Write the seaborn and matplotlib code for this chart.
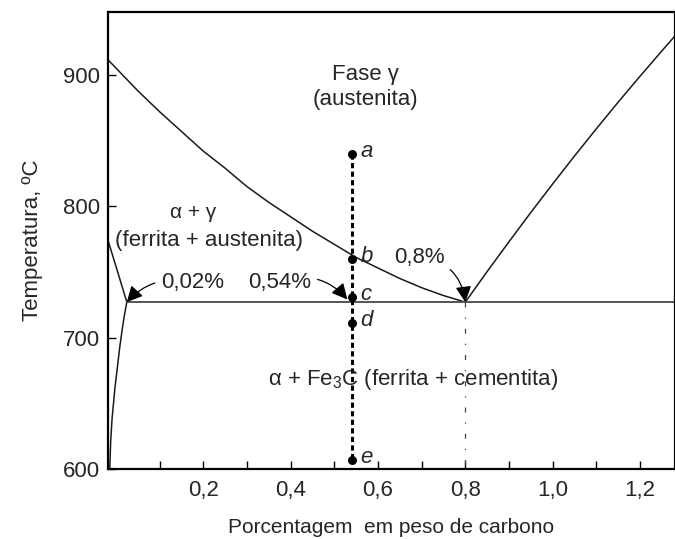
import matplotlib
matplotlib.use("Agg")
import matplotlib.pyplot as plt
import seaborn as sns
import pandas as pd
from matplotlib.ticker import FixedLocator, FuncFormatter

# --- phase boundaries (wt% C, temperature in °C) ---
a3_x = [-0.018, 0.05, 0.1, 0.15, 0.2, 0.25, 0.3, 0.35, 0.4, 0.45, 0.5, 0.55, 0.6,
        0.65, 0.7, 0.75, 0.8]
a3_t = [911.5, 888, 872, 857, 842, 829, 815, 803, 792, 781, 771, 761, 753,
        745, 738, 732, 727]

acm_x = [0.8, 0.85, 0.9, 0.95, 1.0, 1.05, 1.1, 1.15, 1.2, 1.25, 1.28]
acm_t = [727, 750.3, 773, 795.3, 817, 838.3, 859, 879.3, 899, 918.3, 929.7]

solvus_up_x = [-0.018, -0.006, 0.005, 0.016, 0.025]
solvus_up_t = [774, 761, 749, 737, 727]

solvus_low_x = [0.025, 0.019, 0.014, 0.009, 0.003, -0.002, -0.006, -0.009,
                -0.012, -0.014]
solvus_low_t = [727, 716, 705, 693, 676, 662, 648, 637, 620, 600]

eutectoid_t = 727
eutectoid_x = [0.025, 1.28]
eutectoid_c = 0.8

# --- alloy of 0.54 % C and its sampled states ---
alloy_c = 0.54
point_names = ["a", "b", "c", "d", "e"]
point_t = [840, 760, 731, 711, 607]

x_ticks_major = [0.2, 0.4, 0.6, 0.8, 1.0, 1.2]
x_ticks_minor = [0.1, 0.3, 0.5, 0.7, 0.9, 1.1]
y_ticks = [600, 700, 800, 900]

sns.set_theme(style="white")
plt.rcParams["font.family"] = ["Liberation Sans", "DejaVu Sans"]
plt.rcParams["mathtext.fontset"] = "custom"
plt.rcParams["mathtext.rm"] = "Liberation Sans"

FS = 16

fig = plt.figure(figsize=(6.75, 5.39), dpi=100)
ax = fig.add_axes([0.16, 0.130, 0.84, 0.848])

line_col = "#1a1a1a"
for xs, ts in [(a3_x, a3_t), (acm_x, acm_t), (solvus_up_x, solvus_up_t),
               (solvus_low_x, solvus_low_t)]:
    sns.lineplot(x=xs, y=ts, ax=ax, color=line_col, lw=1.1, sort=False)
sns.lineplot(x=eutectoid_x, y=[eutectoid_t] * 2, ax=ax, color="#555555", lw=1.4,
             sort=False)

# eutectoid composition marker line
ax.plot([eutectoid_c, eutectoid_c], [eutectoid_t, 600], color="#444444", lw=0.9,
        linestyle=(0, (4, 8, 1, 8)))

# vertical path of the alloy
ax.plot([alloy_c, alloy_c], [point_t[0], point_t[-1]], color="black", lw=2.2,
        linestyle=(0, (1.7, 1.1)))
pts = pd.DataFrame({"x": [alloy_c] * len(point_t), "t": point_t, "name": point_names})
sns.scatterplot(data=pts, x="x", y="t", ax=ax, color="black", s=42, edgecolor="black",
                linewidth=0, zorder=5)
for _, r in pts.iterrows():
    ax.text(r["x"] + 0.02, r["t"] + 2, r["name"], style="italic", fontsize=FS,
            ha="left", va="center")

# region labels
ax.text(0.571, 900, "Fase γ", fontsize=FS, ha="center", va="center")
ax.text(0.571, 881, "(austenita)", fontsize=FS, ha="center", va="center")
ax.text(0.177, 795, "α + γ", fontsize=FS - 1, ha="center", va="center")
ax.text(0.213, 774, "(ferrita + austenita)", fontsize=FS, ha="center", va="center")
ax.text(0.349, 668, r"α + Fe$_3$C (ferrita + cementita)", fontsize=FS, ha="left",
        va="center")

# composition call-outs
arrow_kw = dict(arrowstyle="-|>,head_length=0.6,head_width=0.3", color="black", lw=0.9,
                shrinkA=2, shrinkB=0)
ax.annotate("0,02%", xy=(0.025, eutectoid_t), xytext=(0.175, 742), fontsize=FS,
            ha="center", va="center",
            arrowprops=dict(connectionstyle="arc3,rad=0.3", **arrow_kw))
ax.annotate("0,54%", xy=(alloy_c - 0.01, 729), xytext=(0.376, 742), fontsize=FS,
            ha="center", va="center",
            arrowprops=dict(connectionstyle="arc3,rad=-0.35", **arrow_kw))
ax.annotate("0,8%", xy=(eutectoid_c, eutectoid_t), xytext=(0.695, 761), fontsize=FS,
            ha="center", va="center",
            arrowprops=dict(connectionstyle="arc3,rad=-0.4", **arrow_kw))

ax.set_xlim(-0.018, 1.28)
ax.set_ylim(600, 948)

ax.xaxis.set_major_locator(FixedLocator(x_ticks_major))
ax.xaxis.set_minor_locator(FixedLocator(x_ticks_minor))
ax.xaxis.set_major_formatter(FuncFormatter(lambda v, p: f"{v:.1f}".replace(".", ",")))
ax.yaxis.set_major_locator(FixedLocator(y_ticks))
ax.tick_params(axis="both", which="both", direction="in", length=6, width=1,
               color="black", labelsize=FS, pad=8, bottom=True, left=True)
ax.tick_params(axis="y", pad=6)

for s in ax.spines.values():
    s.set_color("black")
    s.set_linewidth(1.6)

ax.set_xlabel("Porcentagem  em peso de carbono", fontsize=15, labelpad=12)
ax.set_ylabel("Temperatura, ºC", fontsize=FS, labelpad=14)

fig.savefig("out.png", dpi=100)
